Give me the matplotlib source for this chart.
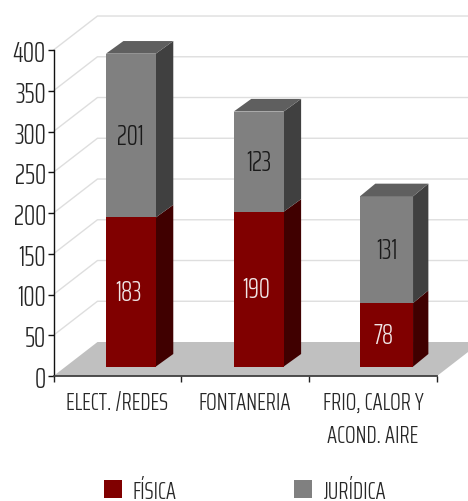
import matplotlib
matplotlib.use("Agg")
import matplotlib.pyplot as plt
from matplotlib.patches import Polygon, Patch

categories = ["ELECT. /REDES", "FONTANERIA", "FRIO, CALOR Y\nACOND. AIRE"]
fisica = [183, 190, 78]
juridica = [201, 123, 131]
yticks = [0, 50, 100, 150, 200, 250, 300, 350, 400]

plt.rcParams["font.family"] = ["Saira ExtraCondensed", "Pathway Gothic One", "Liberation Sans", "DejaVu Sans"]
plt.rcParams["font.weight"] = 300
TXT = "#262626"

fig = plt.figure(figsize=(4.68, 5.02), dpi=100, facecolor="white")
ax = fig.add_axes([53.5 / 468, 125 / 502, 383.5 / 468, 326 / 502])
ax.set_xlim(0, 3)
ax.set_ylim(0, 400)
ax.patch.set_visible(False)

# 3d look: depth of the walls and of the bars, in data units
wall_dx = 0.344
wall_dy = 41.7
base_dx = 0.105
base_dy = 11.5
bar_w = [0.39, 0.39, 0.415]
bar_dx = [0.137, 0.137, 0.12]
bar_dy = 15.5

ax.add_patch(Polygon([(0, 0), (3, 0), (3 + wall_dx, wall_dy), (wall_dx, wall_dy)],
                     closed=True, fc="#c0c0c0", ec="none", clip_on=False, zorder=1))
for t in yticks[1:]:
    ax.plot([0, wall_dx, 3 + wall_dx], [t, t + wall_dy, t + wall_dy], color="#dedede",
            lw=1, clip_on=False, zorder=1)


def draw_seg(i, low, high, front, top, side):
    x0 = i + 0.5 - bar_w[i] / 2 + base_dx
    x1 = x0 + bar_w[i]
    y0 = low + base_dy
    y1 = high + base_dy
    dx = bar_dx[i]
    ax.add_patch(Polygon([(x1, y0), (x1 + dx, y0 + bar_dy), (x1 + dx, y1 + bar_dy), (x1, y1)],
                         closed=True, fc=side, ec="none", clip_on=False, zorder=3))
    ax.add_patch(Polygon([(x0, y0), (x1, y0), (x1, y1), (x0, y1)],
                         closed=True, fc=front, ec="none", clip_on=False, zorder=4))
    if top:
        ax.add_patch(Polygon([(x0, y1), (x1, y1), (x1 + dx, y1 + bar_dy), (x0 + dx, y1 + bar_dy)],
                             closed=True, fc=top, ec="none", clip_on=False, zorder=4))
    return (x0 + x1) / 2, (y0 + y1) / 2


for i in range(3):
    a = fisica[i]
    b = juridica[i]
    cx, cy = draw_seg(i, 0, a, "#800000", None, "#400000")
    ax.text(cx - 0.02, cy, str(a), color="#f0e6e6", fontsize=20, ha="center", va="center", zorder=6)
    cx, cy = draw_seg(i, a, a + b, "#808080", "#5f5f5f", "#404040")
    ax.text(cx, cy, str(b), color="#1a1a1a", fontsize=20, ha="center", va="center", zorder=6)

ax.spines["top"].set_visible(False)
ax.spines["right"].set_visible(False)
ax.spines["left"].set_linewidth(1)
ax.spines["left"].set_color("#111111")
ax.spines["bottom"].set_linewidth(1.3)
ax.spines["bottom"].set_color("#404040")
ax.spines["left"].set_zorder(5)
ax.spines["bottom"].set_zorder(5)

ax.set_yticks(yticks)
ax.set_yticklabels([str(t) for t in yticks], fontsize=20.5, color=TXT)
ax.tick_params(axis="y", length=4, width=1, pad=1.5, color="#111111")
ax.set_xticks([0, 1, 2, 3])
ax.set_xticklabels([])
ax.tick_params(axis="x", which="major", length=4, width=1, color="#222222")
ax.set_xticks([0.5, 1.5, 2.5], minor=True)
ax.set_xticklabels(categories, minor=True, fontsize=18, color=TXT, linespacing=1.5)
ax.tick_params(axis="x", which="minor", length=0, pad=10)

handles = [Patch(fc="#800000", ec="none"), Patch(fc="#808080", ec="none")]
leg = fig.legend(handles, ["FÍSICA", "JURÍDICA"], ncols=2, frameon=False, fontsize=18,
                 loc="center", bbox_to_anchor=(0.5235, 0.02), handlelength=0.72, handleheight=0.72,
                 handletextpad=0.45, columnspacing=4.7, labelcolor=TXT)

fig.savefig("out.png", dpi=100)
